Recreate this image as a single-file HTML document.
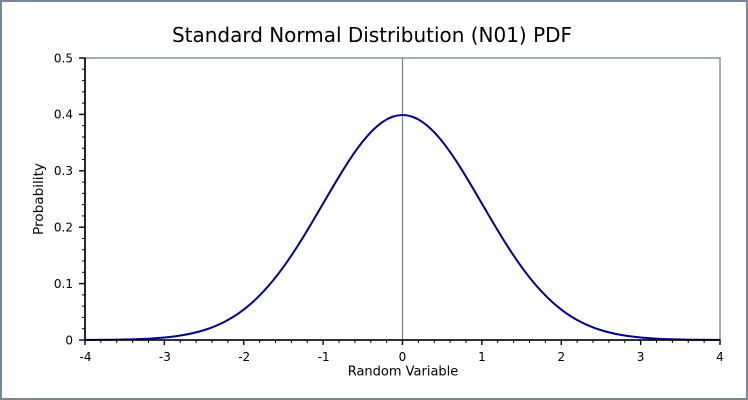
<!DOCTYPE html>
<html>
<head>
<meta charset="utf-8">
<style>
html,body{margin:0;padding:0;background:#fff;}
svg{display:block;}
text{font-family:"DejaVu Sans","Liberation Sans",sans-serif;fill:#000;}
</style>
</head>
<body>
<svg width="748" height="400" viewBox="0 0 748 400" xmlns="http://www.w3.org/2000/svg">
  <rect x="0" y="0" width="748" height="400" fill="#fff"/>
  <rect x="1" y="1" width="746" height="398" fill="none" stroke="#778899" stroke-width="2"/>

  <text x="372" y="42" font-size="20" text-anchor="middle" textLength="400" lengthAdjust="spacingAndGlyphs">Standard Normal Distribution (N01) PDF</text>

  <!-- plot frame -->
  <rect x="85" y="58" width="635" height="282" fill="none" stroke="#8c9aaa" stroke-width="1.6"/>

  <!-- vertical line at 0 -->
  <line x1="402.5" y1="58" x2="402.5" y2="340" stroke="#808080" stroke-width="1.2"/>

  <!-- curve -->
  <g fill="none" stroke="#00008B" stroke-width="2" stroke-linejoin="round">
    <path d="M402.5,114.997 C409.115,114.997 415.729,117.376 422.344,121.919 C428.959,126.462 435.573,133.162 442.188,141.435 C448.803,149.709 455.416,159.544 462.031,170.159 C468.646,180.774 475.260,192.155 481.875,203.528 C488.490,214.901 495.104,226.255 501.719,236.986 C508.334,247.717 514.948,257.821 521.563,266.952 C528.178,276.083 534.791,284.244 541.406,291.340 C548.021,298.436 554.635,304.474 561.25,309.549 C567.865,314.624 574.479,318.742 581.094,322.099 C587.709,325.456 594.323,328.054 600.938,330.114 C607.553,332.174 614.166,333.696 620.781,334.871 C627.396,336.046 634.010,336.875 640.625,337.500 C647.240,338.125 653.854,338.546 660.469,338.856 C667.084,339.166 673.698,339.364 680.313,339.508 C686.928,339.652 693.541,339.739 700.156,339.801 C706.771,339.863 713.385,339.899 720,339.924"/>
    <path d="M402.5,114.997 C395.885,114.997 389.271,117.376 382.656,121.919 C376.041,126.462 369.427,133.162 362.812,141.435 C356.197,149.709 349.584,159.544 342.969,170.159 C336.354,180.774 329.740,192.155 323.125,203.528 C316.510,214.901 309.896,226.255 303.281,236.986 C296.666,247.717 290.052,257.821 283.437,266.952 C276.822,276.083 270.209,284.244 263.594,291.340 C256.979,298.436 250.365,304.474 243.75,309.549 C237.135,314.624 230.521,318.742 223.906,322.099 C217.291,325.456 210.677,328.054 204.062,330.114 C197.447,332.174 190.834,333.696 184.219,334.871 C177.604,336.046 170.990,336.875 164.375,337.500 C157.760,338.125 151.146,338.546 144.531,338.856 C137.916,339.166 131.302,339.364 124.687,339.508 C118.072,339.652 111.459,339.739 104.844,339.801 C98.229,339.863 91.615,339.899 85,339.924"/>
  </g>

  <!-- axes -->
  <line x1="85" y1="57.5" x2="85" y2="340.5" stroke="#000" stroke-width="1.6"/>
  <line x1="84.5" y1="340" x2="720.5" y2="340" stroke="#000" stroke-width="1.6"/>

  <!-- x ticks -->
  <g stroke="#000" stroke-width="1.4">
    <line x1="85" y1="340" x2="85" y2="345"/>
    <line x1="164.375" y1="340" x2="164.375" y2="345"/>
    <line x1="243.75" y1="340" x2="243.75" y2="345"/>
    <line x1="323.125" y1="340" x2="323.125" y2="345"/>
    <line x1="402.5" y1="340" x2="402.5" y2="345"/>
    <line x1="481.875" y1="340" x2="481.875" y2="345"/>
    <line x1="561.25" y1="340" x2="561.25" y2="345"/>
    <line x1="640.625" y1="340" x2="640.625" y2="345"/>
    <line x1="720" y1="340" x2="720" y2="345"/>
  </g>
  <g stroke="#000" stroke-width="1">
    <line x1="100.875" y1="340" x2="100.875" y2="343"/><line x1="116.75" y1="340" x2="116.75" y2="343"/><line x1="132.625" y1="340" x2="132.625" y2="343"/><line x1="148.5" y1="340" x2="148.5" y2="343"/>
    <line x1="180.25" y1="340" x2="180.25" y2="343"/><line x1="196.125" y1="340" x2="196.125" y2="343"/><line x1="212" y1="340" x2="212" y2="343"/><line x1="227.875" y1="340" x2="227.875" y2="343"/>
    <line x1="259.625" y1="340" x2="259.625" y2="343"/><line x1="275.5" y1="340" x2="275.5" y2="343"/><line x1="291.375" y1="340" x2="291.375" y2="343"/><line x1="307.25" y1="340" x2="307.25" y2="343"/>
    <line x1="339" y1="340" x2="339" y2="343"/><line x1="354.875" y1="340" x2="354.875" y2="343"/><line x1="370.75" y1="340" x2="370.75" y2="343"/><line x1="386.625" y1="340" x2="386.625" y2="343"/>
    <line x1="418.375" y1="340" x2="418.375" y2="343"/><line x1="434.25" y1="340" x2="434.25" y2="343"/><line x1="450.125" y1="340" x2="450.125" y2="343"/><line x1="466" y1="340" x2="466" y2="343"/>
    <line x1="497.75" y1="340" x2="497.75" y2="343"/><line x1="513.625" y1="340" x2="513.625" y2="343"/><line x1="529.5" y1="340" x2="529.5" y2="343"/><line x1="545.375" y1="340" x2="545.375" y2="343"/>
    <line x1="577.125" y1="340" x2="577.125" y2="343"/><line x1="593" y1="340" x2="593" y2="343"/><line x1="608.875" y1="340" x2="608.875" y2="343"/><line x1="624.75" y1="340" x2="624.75" y2="343"/>
    <line x1="656.5" y1="340" x2="656.5" y2="343"/><line x1="672.375" y1="340" x2="672.375" y2="343"/><line x1="688.25" y1="340" x2="688.25" y2="343"/><line x1="704.125" y1="340" x2="704.125" y2="343"/>
  </g>

  <!-- y ticks -->
  <g stroke="#000" stroke-width="1.4">
    <line x1="79" y1="58" x2="85" y2="58"/>
    <line x1="79" y1="114.4" x2="85" y2="114.4"/>
    <line x1="79" y1="170.8" x2="85" y2="170.8"/>
    <line x1="79" y1="227.2" x2="85" y2="227.2"/>
    <line x1="79" y1="283.6" x2="85" y2="283.6"/>
    <line x1="79" y1="340" x2="85" y2="340"/>
  </g>
  <g stroke="#000" stroke-width="1">
    <line x1="82" y1="69.28" x2="85" y2="69.28"/><line x1="82" y1="80.56" x2="85" y2="80.56"/><line x1="82" y1="91.84" x2="85" y2="91.84"/><line x1="82" y1="103.12" x2="85" y2="103.12"/>
    <line x1="82" y1="125.68" x2="85" y2="125.68"/><line x1="82" y1="136.96" x2="85" y2="136.96"/><line x1="82" y1="148.24" x2="85" y2="148.24"/><line x1="82" y1="159.52" x2="85" y2="159.52"/>
    <line x1="82" y1="182.08" x2="85" y2="182.08"/><line x1="82" y1="193.36" x2="85" y2="193.36"/><line x1="82" y1="204.64" x2="85" y2="204.64"/><line x1="82" y1="215.92" x2="85" y2="215.92"/>
    <line x1="82" y1="238.48" x2="85" y2="238.48"/><line x1="82" y1="249.76" x2="85" y2="249.76"/><line x1="82" y1="261.04" x2="85" y2="261.04"/><line x1="82" y1="272.32" x2="85" y2="272.32"/>
    <line x1="82" y1="294.88" x2="85" y2="294.88"/><line x1="82" y1="306.16" x2="85" y2="306.16"/><line x1="82" y1="317.44" x2="85" y2="317.44"/><line x1="82" y1="328.72" x2="85" y2="328.72"/>
  </g>

  <!-- y tick labels -->
  <g font-size="12" text-anchor="end">
    <text x="73" y="62.3">0.5</text>
    <text x="73" y="118.7">0.4</text>
    <text x="73" y="175.1">0.3</text>
    <text x="73" y="231.5">0.2</text>
    <text x="73" y="287.9">0.1</text>
    <text x="73" y="344.3">0</text>
  </g>

  <!-- x tick labels -->
  <g font-size="12" text-anchor="middle">
    <text x="85.5" y="361">-4</text>
    <text x="164.9" y="361">-3</text>
    <text x="244.2" y="361">-2</text>
    <text x="323.6" y="361">-1</text>
    <text x="402.5" y="361">0</text>
    <text x="481.9" y="361">1</text>
    <text x="561.3" y="361">2</text>
    <text x="640.6" y="361">3</text>
    <text x="720" y="361">4</text>
  </g>

  <text x="403" y="375.5" font-size="13" text-anchor="middle">Random Variable</text>
  <text transform="translate(43,199) rotate(-90)" x="0" y="0" font-size="13" text-anchor="middle" textLength="72" lengthAdjust="spacingAndGlyphs">Probability</text>
</svg>
</body>
</html>
